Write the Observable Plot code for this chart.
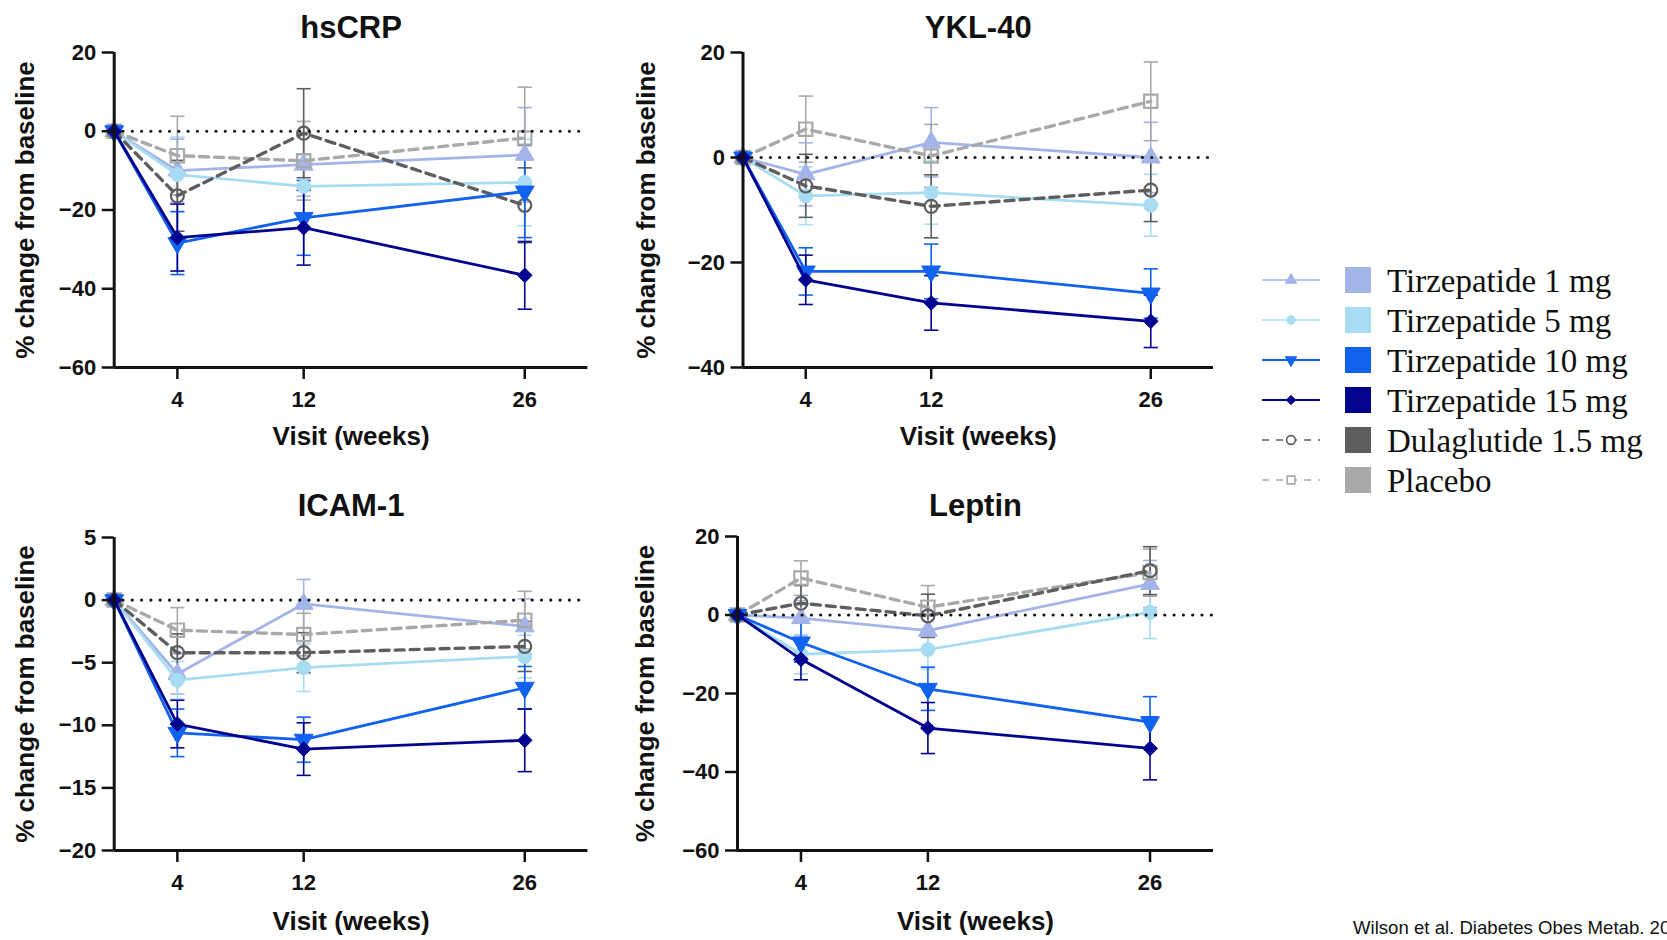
<!DOCTYPE html>
<html><head><meta charset="utf-8">
<script src="https://cdn.jsdelivr.net/npm/d3@7"></script>
<script src="https://cdn.jsdelivr.net/npm/@observablehq/plot@0.6"></script>
<style>
body{margin:0;background:#fff;overflow:hidden;}
#root{position:relative;width:1667px;height:940px;overflow:hidden;font-family:"Liberation Sans",Arial,sans-serif;}
.panel{position:absolute;}
#caption{position:absolute;left:1353px;top:917px;font:18.6px "Liberation Sans",Arial,sans-serif;color:#111;white-space:nowrap;}
</style></head><body><div id="root"><div id="caption">Wilson et al. Diabetes Obes Metab. 2022</div></div>
<script>
// ---------- data ----------
const weeks = [0, 4, 12, 26];
const xTickValues = [4, 12, 26];
const seriesNames = ["Tirzepatide 1 mg", "Tirzepatide 5 mg", "Tirzepatide 10 mg", "Tirzepatide 15 mg", "Dulaglutide 1.5 mg", "Placebo"];
const seriesColors = ["#A3B4E8", "#A8DCF2", "#1262F0", "#02048F", "#5E5E5E", "#A9A9AC"];
const panelTitles = ["hsCRP", "YKL-40", "ICAM-1", "Leptin"];
const yDomains = [[-60, 20], [-40, 20], [-20, 5], [-60, 20]];
const yTickValues = [[20, 0, -20, -40, -60], [20, 0, -20, -40], [5, 0, -5, -10, -15, -20], [20, 0, -20, -40, -60]];

// hsCRP: mean % change and error (per week 0,4,12,26)
const hscrpT1 = [0, -10, -8.5, -6],      hscrpT1Err = [0, 8, 8, 12];
const hscrpT5 = [0, -11, -14, -13],      hscrpT5Err = [0, 9.5, 8, 11];
const hscrpT10 = [0, -28.4, -22, -15.3], hscrpT10Err = [0, 8, 9.5, 11.7];
const hscrpT15 = [0, -27, -24.5, -36.6], hscrpT15Err = [0, 8.5, 9.5, 8.6];
const hscrpDula = [0, -16.4, -0.5, -18.8], hscrpDulaErr = [0, 9, 11.3, 9.5];
const hscrpPbo = [0, -6.2, -7.5, -1.7],  hscrpPboErr = [0, 10, 10, 12.9];

// YKL-40
const yklT1 = [0, -3.2, 2.9, 0],         yklT1Err = [0, 6, 6.6, 6.7];
const yklT5 = [0, -7.3, -6.7, -9.1],     yklT5Err = [0, 5.5, 6, 5.9];
const yklT10 = [0, -21.7, -21.7, -25.9], yklT10Err = [0, 4.5, 5.2, 4.7];
const yklT15 = [0, -23.3, -27.7, -31.2], yklT15Err = [0, 4.7, 5.2, 5];
const yklDula = [0, -5.4, -9.3, -6.2],   yklDulaErr = [0, 6, 6, 6];
const yklPbo = [0, 5.4, 0.3, 10.7],      yklPboErr = [0, 6.3, 6, 7.5];

// ICAM-1
const icamT1 = [0, -5.9, -0.3, -2.1],    icamT1Err = [0, 1.6, 1.95, 2.2];
const icamT5 = [0, -6.4, -5.4, -4.5],    icamT5Err = [0, 1.5, 1.9, 1.7];
const icamT10 = [0, -10.6, -11.15, -7.0], icamT10Err = [0, 1.9, 1.8, 1.7];
const icamT15 = [0, -9.9, -11.9, -11.2], icamT15Err = [0, 1.9, 2.1, 2.5];
const icamDula = [0, -4.2, -4.2, -3.7],  icamDulaErr = [0, 1.5, 1.6, 2];
const icamPbo = [0, -2.4, -2.75, -1.6],  icamPboErr = [0, 1.8, 1.7, 2.3];

// Leptin
const leptinT1 = [0, -0.8, -4, 7.9],     leptinT1Err = [0, 4.5, 5, 6];
const leptinT5 = [0, -10, -8.8, 0.7],    leptinT5Err = [0, 5, 5, 6.7];
const leptinT10 = [0, -7, -18.8, -27.3], leptinT10Err = [0, 5, 5.5, 6.5];
const leptinT15 = [0, -11.3, -28.8, -34], leptinT15Err = [0, 5.2, 6.5, 8];
const leptinDula = [0, 3.0, -0.2, 11.3], leptinDulaErr = [0, 4.5, 5.5, 6.1];
const leptinPbo = [0, 9.4, 2, 10.8],     leptinPboErr = [0, 4.4, 5.5, 6];

const panelMeans = [
  [hscrpT1, hscrpT5, hscrpT10, hscrpT15, hscrpDula, hscrpPbo],
  [yklT1, yklT5, yklT10, yklT15, yklDula, yklPbo],
  [icamT1, icamT5, icamT10, icamT15, icamDula, icamPbo],
  [leptinT1, leptinT5, leptinT10, leptinT15, leptinDula, leptinPbo]
];
const panelErrs = [
  [hscrpT1Err, hscrpT5Err, hscrpT10Err, hscrpT15Err, hscrpDulaErr, hscrpPboErr],
  [yklT1Err, yklT5Err, yklT10Err, yklT15Err, yklDulaErr, yklPboErr],
  [icamT1Err, icamT5Err, icamT10Err, icamT15Err, icamDulaErr, icamPboErr],
  [leptinT1Err, leptinT5Err, leptinT10Err, leptinT15Err, leptinDulaErr, leptinPboErr]
];

// ---------- styles ----------
const triDown = {draw(ctx, size) {
  const s3 = Math.sqrt(3), y = -Math.sqrt(size / (s3 * 3));
  ctx.moveTo(0, -y * 2); ctx.lineTo(-s3 * y, y); ctx.lineTo(s3 * y, y); ctx.closePath();
}};
const capSymbol = {draw(ctx, size) {
  const w = Math.sqrt(size); ctx.moveTo(-w, 0); ctx.lineTo(w, 0);
}};
const seriesSymbols = [d3.symbolTriangle, d3.symbolCircle, triDown, d3.symbolDiamond2, d3.symbolCircle, d3.symbolSquare];
const plotSymbols = ["triangle", "circle", triDown, "diamond2", "circle", "square"];
const seriesR = [7, 7, 7, 6.6, 6.5, 7.5];
const isDashed = [false, false, false, false, true, true];
const isOpen = [false, false, false, false, true, true];
const drawOrder = [0, 1, 5, 4, 2, 3];

const layouts = [
  {left: 0,   top: 0,   ml: 113.7, mr: 32.6, mt: 52, mb: 103, titleDy: -37, ylabDx: -89, xlabDy: 77},
  {left: 620, top: 0,   ml: 122.5, mr: 27,   mt: 52, mb: 103, titleDy: -37, ylabDx: -96, xlabDy: 77},
  {left: 0,   top: 470, ml: 113.7, mr: 32.6, mt: 67, mb: 90,  titleDy: -44, ylabDx: -89, xlabDy: 79},
  {left: 620, top: 470, ml: 117,   mr: 27,   mt: 66, mb: 90,  titleDy: -43, ylabDx: -92, xlabDy: 79}
];

const fmt = d => d < 0 ? "\u2212" + Math.abs(d) : String(d);
const root = document.getElementById("root");

panelTitles.forEach((title, p) => {
  const L = layouts[p];
  const errMarks = [], seriesMarks = [];
  drawOrder.forEach(s => {
    const m = panelMeans[p][s], e = panelErrs[p][s], c = seriesColors[s];
    const data = weeks.map((w, j) => ({week: w, value: m[j], lo: m[j] - e[j], hi: m[j] + e[j]}));
    const eb = data.filter(d => d.week > 0);
    errMarks.push(
      Plot.ruleX(eb, {x: "week", y1: "lo", y2: "hi", stroke: c, strokeWidth: 1.6}),
      Plot.dot(eb, {x: "week", y: "lo", symbol: capSymbol, r: 4, fill: "none", stroke: c, strokeWidth: 1.6}),
      Plot.dot(eb, {x: "week", y: "hi", symbol: capSymbol, r: 4, fill: "none", stroke: c, strokeWidth: 1.6})
    );
    seriesMarks.push(
      Plot.line(data, {x: "week", y: "value", stroke: c, strokeWidth: isDashed[s] ? 3.4 : 2.8,
        strokeDasharray: isDashed[s] ? "9,6" : null}),
      Plot.dot(data, {x: "week", y: "value", symbol: plotSymbols[s], r: seriesR[s],
        fill: isOpen[s] ? "none" : c, stroke: c, strokeWidth: isOpen[s] ? 2.2 : 1})
    );
  });
  const chart = Plot.plot({
    width: 620, height: 470,
    marginLeft: L.ml, marginRight: L.mr, marginTop: L.mt, marginBottom: L.mb,
    style: {fontFamily: "'Liberation Sans', Arial, sans-serif", fontWeight: "bold", color: "#111", background: "transparent", overflow: "visible"},
    x: {domain: [0, 30]},
    y: {domain: yDomains[p]},
    marks: [
      ...errMarks,
      ...seriesMarks,
      Plot.ruleY([0], {stroke: "#111", strokeWidth: 3.2, strokeDasharray: "0,9.3", strokeLinecap: "round"}),
      Plot.ruleX([0], {stroke: "#111", strokeWidth: 3}),
      Plot.ruleY([yDomains[p][0]], {stroke: "#111", strokeWidth: 3}),
      Plot.axisY({ticks: yTickValues[p], tickFormat: fmt, tickSize: 12, tickPadding: 6, strokeWidth: 2.5, fontSize: 22, fontWeight: "bold", label: null}),
      Plot.axisX({ticks: xTickValues, tickSize: 12, tickPadding: 12, strokeWidth: 2.5, fontSize: 22, fontWeight: "bold", label: null}),
      Plot.text([title], {text: d => d, frameAnchor: "top", dy: L.titleDy, fontSize: 31, fontWeight: "bold", fill: "#111"}),
      Plot.text(["% change from baseline"], {text: d => d, frameAnchor: "left", textAnchor: "middle", dx: L.ylabDx, rotate: -90, fontSize: 26, fontWeight: "bold", fill: "#111"}),
      Plot.text(["Visit (weeks)"], {text: d => d, frameAnchor: "bottom", dy: L.xlabDy, fontSize: 26, fontWeight: "bold", fill: "#111"})
    ]
  });
  const wrap = document.createElement("div");
  wrap.className = "panel";
  wrap.style.left = L.left + "px";
  wrap.style.top = L.top + "px";
  wrap.appendChild(chart);
  root.appendChild(wrap);
});

// ---------- legend ----------
const legend = d3.select("#root").append("svg")
  .attr("width", 417).attr("height", 260)
  .style("position", "absolute").style("left", "1250px").style("top", "258px");
seriesNames.forEach((name, i) => {
  const c = seriesColors[i];
  const g = legend.append("g").attr("transform", `translate(0,${22 + 40 * i})`);
  g.append("line").attr("x1", 12).attr("x2", 70).attr("y1", 0).attr("y2", 0)
    .attr("stroke", c).attr("stroke-width", i >= 2 && i <= 3 ? 2 : 1.6)
    .attr("stroke-dasharray", isDashed[i] ? "7,7" : null);
  g.append("path").attr("d", d3.symbol(seriesSymbols[i], isOpen[i] ? 60 : 55)())
    .attr("transform", "translate(41,0)")
    .attr("fill", isOpen[i] ? "#fff" : c).attr("stroke", c).attr("stroke-width", isOpen[i] ? 1.6 : 1);
  g.append("rect").attr("x", 95).attr("y", -13).attr("width", 26).attr("height", 26).attr("fill", c);
  g.append("text").attr("x", 137).attr("y", 12).text(name)
    .attr("font-family", "'Liberation Serif', 'Times New Roman', serif").attr("font-size", 33).attr("fill", "#111");
});
</script>
</body></html>
